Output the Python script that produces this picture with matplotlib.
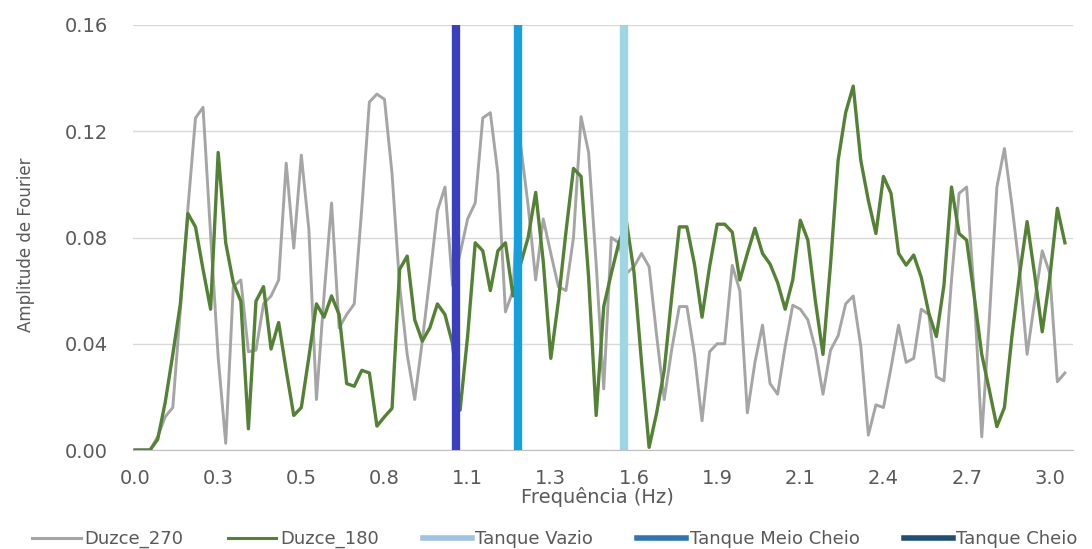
import numpy as np
import matplotlib.pyplot as plt

# amplitudes de Fourier (passo de frequencia ~0.0244 Hz)
duzce_270 = [0, 0, 0, 0.005, 0.0125, 0.016, 0.053, 0.091, 0.125, 0.129,
             0.081, 0.035, 0.0025, 0.0615, 0.064, 0.037, 0.0376, 0.055, 0.058, 0.064,
             0.108, 0.076, 0.111, 0.083, 0.019, 0.058, 0.093, 0.046, 0.051, 0.055,
             0.091, 0.131, 0.134, 0.132, 0.104, 0.062, 0.036, 0.019, 0.041, 0.065,
             0.090, 0.099, 0.062, 0.074, 0.087, 0.093, 0.125, 0.127, 0.104, 0.052,
             0.060, 0.115, 0.092, 0.064, 0.087, 0.074, 0.0615, 0.060, 0.080, 0.1255,
             0.112, 0.070, 0.023, 0.080, 0.078, 0.0665, 0.069, 0.074, 0.069, 0.043,
             0.019, 0.038, 0.054, 0.054, 0.036, 0.011, 0.037, 0.040, 0.040, 0.0695,
             0.060, 0.014, 0.033, 0.047, 0.025, 0.021, 0.039, 0.0545, 0.053, 0.049,
             0.038, 0.021, 0.0376, 0.043, 0.055, 0.058, 0.039, 0.0056, 0.017, 0.016,
             0.031, 0.047, 0.033, 0.0345, 0.053, 0.051, 0.0276, 0.026, 0.064, 0.0966,
             0.099, 0.059, 0.005, 0.049, 0.099, 0.1135, 0.092, 0.068, 0.036, 0.056,
             0.075, 0.0665, 0.0257, 0.029]

duzce_180 = [0, 0, 0, 0.004, 0.018, 0.036, 0.055, 0.089, 0.084, 0.068,
             0.053, 0.112, 0.078, 0.063, 0.056, 0.008, 0.056, 0.0615, 0.038, 0.048,
             0.030, 0.013, 0.016, 0.035, 0.055, 0.050, 0.058, 0.051, 0.025, 0.024,
             0.030, 0.029, 0.009, 0.0125, 0.0157, 0.068, 0.073, 0.049, 0.041, 0.046,
             0.055, 0.051, 0.040, 0.015, 0.043, 0.078, 0.075, 0.060, 0.075, 0.078,
             0.058, 0.070, 0.080, 0.097, 0.071, 0.0345, 0.056, 0.082, 0.106, 0.103,
             0.065, 0.013, 0.054, 0.0665, 0.078, 0.086, 0.067, 0.033, 0.001, 0.014,
             0.030, 0.058, 0.084, 0.084, 0.070, 0.050, 0.069, 0.085, 0.085, 0.082,
             0.064, 0.074, 0.0835, 0.074, 0.070, 0.063, 0.053, 0.064, 0.0865, 0.079,
             0.056, 0.036, 0.070, 0.109, 0.127, 0.137, 0.109, 0.094, 0.0815, 0.103,
             0.0966, 0.074, 0.0696, 0.0734, 0.065, 0.0515, 0.0427, 0.062, 0.099, 0.0815,
             0.079, 0.058, 0.036, 0.0226, 0.0088, 0.016, 0.043, 0.066, 0.086, 0.066,
             0.0445, 0.065, 0.091, 0.078]

df_hz = 0.0244140625
freq = np.arange(len(duzce_270)) * df_hz

# frequencias naturais dos tanques
tanque_nomes = ['Tanque Vazio', 'Tanque Meio Cheio', 'Tanque Cheio']
tanque_freq = [1.58, 1.237, 1.037]
tanque_cor_linha = ['#9ED6E4', '#16A1DD', '#3A3FC0']
tanque_cor_legenda = ['#9DC3E6', '#2E75B6', '#1F4E79']

fig = plt.figure(figsize=(10.92, 5.49), dpi=100)
ax = fig.add_axes([133 / 1092, 1 - 450 / 549, 940 / 1092, 425 / 549])

ax.plot(freq, duzce_270, color='#A5A5A5', lw=2.1, zorder=3)
ax.plot(freq, duzce_180, color='#548235', lw=2.4, zorder=4)
for f, c in zip(tanque_freq, tanque_cor_linha):
    ax.plot([f, f], [0, 0.16], color=c, lw=6, solid_capstyle='round', zorder=5)

ax.set_ylim(0, 0.16)
ax.set_yticks([0, 0.04, 0.08, 0.12, 0.16])
ax.set_yticklabels(['0.00', '0.04', '0.08', '0.12', '0.16'])
ax.set_xlim(-2 / 7.56 * df_hz, 124.07 * df_hz)
ax.set_xticks(freq[::11])
ax.set_xticklabels(['%.1f' % v for v in freq[::11]])

ax.grid(axis='y', color='#D9D9D9', lw=1)
ax.set_axisbelow(True)
for s in ['top', 'right', 'left']:
    ax.spines[s].set_visible(False)
ax.spines['bottom'].set_color('#BFBFBF')
ax.tick_params(axis='both', length=0, labelsize=14, colors='#595959')
ax.tick_params(axis='y', pad=18)
ax.tick_params(axis='x', pad=14)

fig.text(597 / 1092, 1 - 497 / 549, 'Frequência (Hz)', ha='center', va='center',
         fontsize=14, color='#595959')
fig.text(26 / 1092, 1 - 245 / 549, 'Amplitude de Fourier', ha='center', va='center',
         rotation=90, fontsize=12, color='#595959')

handles = [plt.Line2D([], [], color='#A5A5A5', lw=2.2),
           plt.Line2D([], [], color='#548235', lw=2.2)]
handles += [plt.Line2D([], [], color=c, lw=4) for c in tanque_cor_legenda]
labels = ['Duzce_270', 'Duzce_180'] + tanque_nomes
fig.legend(handles, labels, loc='center left', bbox_to_anchor=(32 / 1092, 1 - 539 / 549),
           ncol=5, frameon=False, fontsize=13, handlelength=2.7, handletextpad=0.2,
           columnspacing=2.45, labelcolor='#595959', borderaxespad=0, borderpad=0)

fig.savefig('out.png', dpi=100)
